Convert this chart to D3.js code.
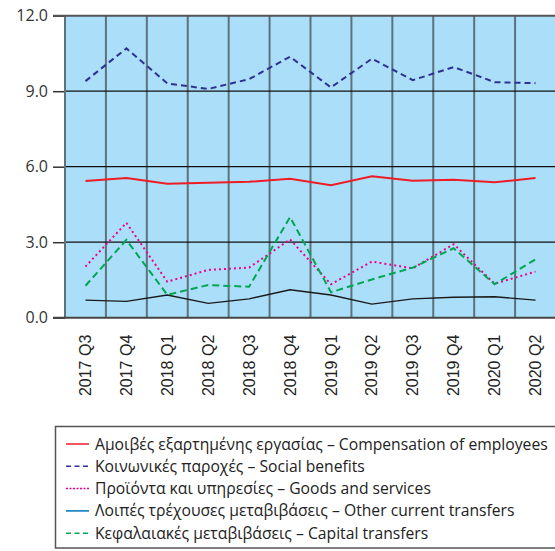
<!DOCTYPE html>
<html><head><meta charset="utf-8">
<script src="https://cdn.jsdelivr.net/npm/d3@7"></script>
<style>body{margin:0;background:#fff}svg{display:block}</style>
</head><body>
<script>
const categories = ["2017 Q3","2017 Q4","2018 Q1","2018 Q2","2018 Q3","2018 Q4","2019 Q1","2019 Q2","2019 Q3","2019 Q4","2020 Q1","2020 Q2"];
const compensation = [5.43,5.55,5.32,5.36,5.40,5.52,5.26,5.62,5.44,5.48,5.38,5.55];
const socialBenefits = [9.40,10.70,9.31,9.09,9.48,10.37,9.15,10.29,9.44,9.96,9.36,9.32];
const goodsServices = [2.03,3.77,1.43,1.90,1.99,3.11,1.33,2.23,1.96,2.92,1.35,1.83];
const otherTransfers = [0.70,0.65,0.90,0.57,0.75,1.11,0.90,0.54,0.75,0.81,0.83,0.70];
const capitalTransfers = [1.27,3.09,0.91,1.30,1.23,4.00,1.01,1.52,1.99,2.76,1.33,2.32];
const yTicks = [0,3,6,9,12];
const legendLabels = [
  "Αμοιβές εξαρτημένης εργασίας – Compensation of employees",
  "Κοινωνικές παροχές – Social benefits",
  "Προϊόντα και υπηρεσίες – Goods and services",
  "Λοιπές τρέχουσες μεταβιβάσεις – Other current transfers",
  "Κεφαλαιακές μεταβιβάσεις – Capital transfers"
];

const series = [
  {values: compensation, color:"#ee1c25", dash:null, legendColor:"#ee1c25"},
  {values: socialBenefits, color:"#2e3192", dash:"6,4", legendColor:"#2e3192"},
  {values: goodsServices, color:"#ec008c", dash:"2,3", legendColor:"#ec008c"},
  {values: otherTransfers, color:"#1a1a1a", dash:null, legendColor:"#0072bc", width:1.4},
  {values: capitalTransfers, color:"#00a651", dash:"7,4", legendColor:"#00a651"}
];

const W=555,H=551;
const svg=d3.select("body").append("svg").attr("width",W).attr("height",H);
const x=d3.scaleBand().domain(categories).range([65,556]);
const y=d3.scaleLinear().domain([0,12]).range([317.7,15.7]);

svg.append("rect").attr("x",65).attr("y",y(12)).attr("width",491).attr("height",y(0)-y(12)).attr("fill","#abdff9");

const bounds = categories.slice(1).map(c=>x(c));
svg.append("g").selectAll("line").data(bounds).join("line")
  .attr("x1",d=>d).attr("x2",d=>d).attr("y1",y(12)).attr("y2",y(0))
  .attr("stroke","#5d727d").attr("stroke-width",2);

svg.append("g").selectAll("line").data(yTicks.filter(t=>t>0&&t<12)).join("line")
  .attr("x1",65).attr("x2",556).attr("y1",d=>y(d)).attr("y2",d=>y(d))
  .attr("stroke","#111").attr("stroke-width",1.2);

const yAxis=d3.axisLeft(y).tickValues(yTicks).tickFormat(d3.format(".1f")).tickSize(12).tickPadding(5);
const ga=svg.append("g").attr("transform","translate(65,0)").call(yAxis);
ga.select(".domain").remove();
ga.selectAll(".tick line").attr("stroke","#333").attr("stroke-width",1.5);
ga.selectAll(".tick text").attr("font-family","Open Sans").attr("font-size",16).attr("fill","#333");
svg.append("line").attr("x1",65).attr("x2",65).attr("y1",y(12)).attr("y2",y(0)).attr("stroke","#5d727d").attr("stroke-width",2);
svg.append("line").attr("x1",53).attr("x2",556).attr("y1",y(12)).attr("y2",y(12)).attr("stroke","#555").attr("stroke-width",2);
svg.append("line").attr("x1",53).attr("x2",556).attr("y1",y(0)).attr("y2",y(0)).attr("stroke","#444").attr("stroke-width",2);

const xAxis=d3.axisBottom(x).tickSize(0).tickPadding(0);
const gx=svg.append("g").attr("transform","translate(0,"+y(0)+")").call(xAxis);
gx.select(".domain").remove();
gx.selectAll(".tick text").attr("font-family","Liberation Sans").attr("font-size",16).attr("fill","#222")
  .attr("text-anchor","end").attr("transform","translate(0,17) rotate(-90)").attr("dy","0.35em").attr("x",0).attr("y",0);

const line=d3.line().x((d,i)=>x(categories[i])+x.bandwidth()/2).y(d=>y(d));
svg.append("g").selectAll("path").data(series).join("path")
  .attr("d",d=>line(d.values)).attr("fill","none").attr("stroke",d=>d.color)
  .attr("stroke-width",d=>d.width||2).attr("stroke-dasharray",d=>d.dash);

svg.append("rect").attr("x",55.5).attr("y",426.5).attr("width",520).attr("height",121.5)
  .attr("fill","#fff").attr("stroke","#555").attr("stroke-width",1.5);
const lg=svg.append("g").selectAll("g").data(series).join("g")
  .attr("transform",(d,i)=>"translate(0,"+(444+i*22.3)+")");
lg.append("line").attr("x1",66).attr("x2",89).attr("y1",0).attr("y2",0)
  .attr("stroke",d=>d.legendColor).attr("stroke-width",1.5).attr("stroke-dasharray",d=>d.dash?(d.dash==="2,3"?"2,1.5":"5,3.5"):null);
lg.append("text").attr("x",95).attr("y",0).attr("dy","0.35em").text((d,i)=>legendLabels[i])
  .attr("font-family","Open Sans").attr("font-size",15.7).attr("fill","#222");
</script>
</body></html>
